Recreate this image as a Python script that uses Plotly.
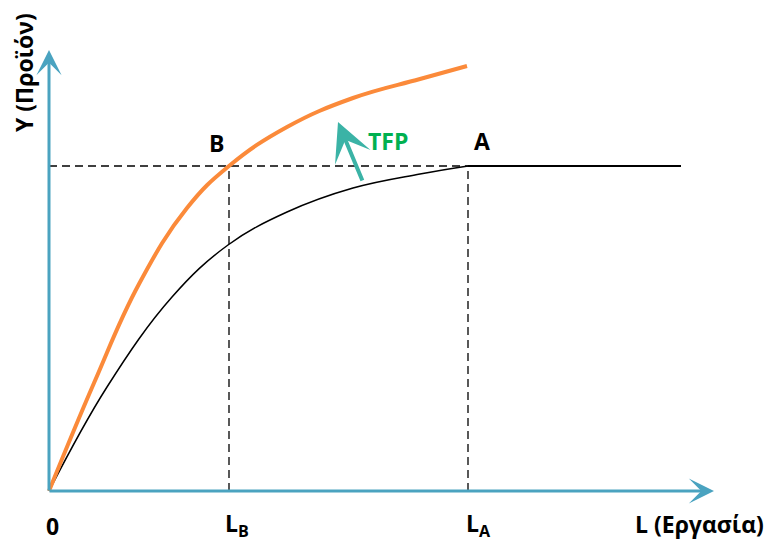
import plotly.graph_objects as go

# labour (x) and output (y), origin at the axes corner
base_L = [0, 58, 123, 179, 238, 304, 371, 419]
base_Y = [0, 104, 194, 246, 279, 303, 317, 325]
flat_L = [419, 632]
flat_Y = [325, 325]

tfp_L = [0, 45, 90, 138, 180, 238, 304, 371, 418]
tfp_Y = [0, 108, 207, 283, 325, 364, 393, 412, 425]

L_B, L_A, Y_0 = 180, 419, 325

FONT = "'Open Sans', 'Noto Sans', sans-serif"
AXIS = "#4AA3C0"
ORANGE = "#FB8A3A"
TEAL = "#3BB3A6"

fig = go.Figure()

fig.add_trace(go.Scatter(x=base_L, y=base_Y, mode="lines",
                         line=dict(color="black", width=1.5, shape="spline", smoothing=1.1),
                         hoverinfo="skip"))
fig.add_trace(go.Scatter(x=flat_L, y=flat_Y, mode="lines",
                         line=dict(color="black", width=2), hoverinfo="skip"))
fig.add_trace(go.Scatter(x=tfp_L, y=tfp_Y, mode="lines",
                         line=dict(color=ORANGE, width=4, shape="spline", smoothing=1.2),
                         hoverinfo="skip"))

# dashed guides
dash = dict(color="black", width=1.3, dash="8px,5px")
fig.add_shape(type="line", x0=0, x1=L_A, y0=Y_0, y1=Y_0, line=dash, layer="below")
fig.add_shape(type="line", x0=L_B, x1=L_B, y0=0, y1=Y_0, line=dash, layer="below")
fig.add_shape(type="line", x0=L_A, x1=L_A, y0=0, y1=Y_0, line=dash, layer="below")

# axes with arrowheads
fig.add_annotation(x=0, y=441, ax=0, ay=-1, xref="x", yref="y", axref="x", ayref="y",
                   text="", showarrow=True, arrowhead=3, arrowsize=1.4,
                   arrowwidth=3, arrowcolor=AXIS)
fig.add_annotation(x=665, y=0, ax=-1, ay=0, xref="x", yref="y", axref="x", ayref="y",
                   text="", showarrow=True, arrowhead=3, arrowsize=1.4,
                   arrowwidth=3, arrowcolor=AXIS)

# TFP shift arrow
fig.add_annotation(x=289, y=369, ax=314, ay=309, xref="x", yref="y", axref="x", ayref="y",
                   text="", showarrow=True, arrowhead=3, arrowsize=1.6,
                   arrowwidth=4, arrowcolor=TEAL)

labels = [
    ("B", 167, 348, "black"),
    ("A", 433, 350, "black"),
    ("TFP", 339, 350, "#00B050"),
    ("0", 3, -35, "black"),
    ("L<sub>B</sub>", 188, -33, "black"),
    ("L<sub>A</sub>", 429, -33, "black"),
    ("L (Εργασία)", 650, -33, "black"),
]
for txt, x, y, c in labels:
    fig.add_annotation(x=x, y=y, text="<b>%s</b>" % txt, showarrow=False,
                       font=dict(family=FONT, size=23, color=c))

fig.add_annotation(x=-25, y=418, text="<b>Υ (Προϊόν)</b>", showarrow=False, textangle=-90,
                   font=dict(family=FONT, size=23, color="black"))

# the page sits 8px in from the top-left, so the figure is 8px smaller
fig.update_layout(
    width=764, height=534,
    margin=dict(l=0, r=0, t=0, b=0),
    plot_bgcolor="white", paper_bgcolor="white",
    showlegend=False,
    xaxis=dict(range=[-41, 723], visible=False, fixedrange=True),
    yaxis=dict(range=[-51, 483], visible=False, fixedrange=True),
)

fig.write_html("out.html")
